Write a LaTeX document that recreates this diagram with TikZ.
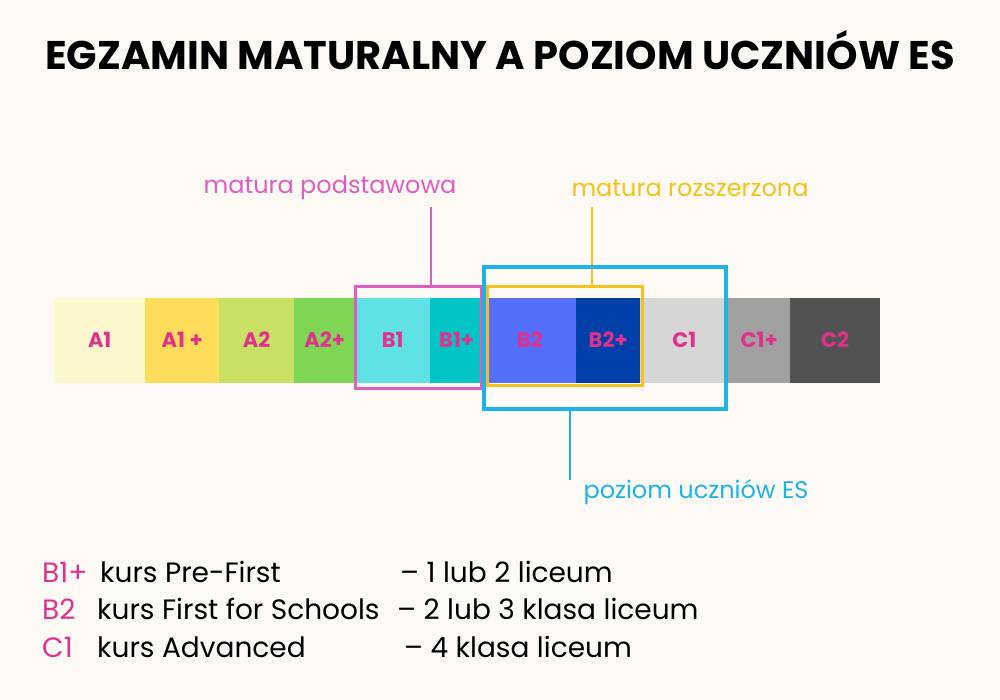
\documentclass[tikz,border=0pt]{standalone}
\usepackage{fontspec}
\setmainfont{Poppins}
\definecolor{bg}{HTML}{FDF9F5}
\definecolor{mag}{HTML}{E0318C}
\definecolor{pinkb}{HTML}{E05DC0}
\definecolor{yel}{HTML}{F5C21C}
\definecolor{blu}{HTML}{1CB4E4}
\begin{document}
\begin{tikzpicture}[x=1pt,y=-1pt,
 seg/.style={draw=none,inner sep=0,minimum height=85,anchor=west,font=\bfseries\fontsize{21}{21}\selectfont,text=mag},
 lab/.style={font=\fontsize{24}{24}\selectfont,anchor=center,inner sep=0},
 leg/.style={font=\fontsize{28}{28}\selectfont,anchor=base west,inner sep=0}]
\fill[bg] (0,0) rectangle (1000,700);
\useasboundingbox (0,0) rectangle (1000,700);
\node[font=\bfseries\fontsize{40}{40}\selectfont,anchor=center] (title) at (500,50) {EGZAMIN MATURALNY A POZIOM UCZNIÓW ES};
\node[seg,fill={rgb,255:red,253;green,247;blue,205},minimum width=91] (a1) at (54,340) {A1};
\node[seg,fill={rgb,255:red,253;green,220;blue,90},minimum width=74] (a1p) at (145,340) {A1 +};
\node[seg,fill={rgb,255:red,200;green,224;blue,100},minimum width=75] (a2) at (219,340) {A2};
\node[seg,fill={rgb,255:red,126;green,214;blue,84},minimum width=61] (a2p) at (294,340) {A2+};
\node[seg,fill={rgb,255:red,96;green,226;blue,228},minimum width=75] (b1) at (355,340) {B1};
\node[seg,fill={rgb,255:red,0;green,196;blue,198},minimum width=53] (b1p) at (430,340) {B1+};
\node[seg,fill={rgb,255:red,84;green,112;blue,250},minimum width=93] (b2) at (483,340) {B2};
\node[seg,fill={rgb,255:red,0;green,64;blue,168},minimum width=64] (b2p) at (576,340) {B2+};
\node[seg,fill={rgb,255:red,214;green,214;blue,214},minimum width=88] (c1) at (640,340) {C1};
\node[seg,fill={rgb,255:red,160;green,160;blue,160},minimum width=62] (c1p) at (728,340) {C1+};
\node[seg,fill={rgb,255:red,82;green,82;blue,82},minimum width=90] (c2) at (790,340) {C2};
% boxes
\draw[pinkb,line width=3] (355,287) rectangle (481,388);
\coordinate (pt) at (431,287);
\node[lab,text=pinkb] (mp) at (330,188) {matura podstawowa};
\draw[pinkb,line width=2.5] (pt) -- (431,207);
\draw[yel,line width=3] (487,287) rectangle (642,385);
\coordinate (yt) at (592,287);
\node[lab,text=yel] (mr) at (690,188) {matura rozszerzona};
\draw[yel,line width=2.5] (yt) -- (592,207);
\draw[blu,line width=3.5] (484,267) rectangle (726,409);
\coordinate (bt) at (570,409);
\node[lab,text=blu] (pu) at (696,492) {poziom uczniów ES};
\draw[blu,line width=2.5] (bt) -- (570,480);
% legend
\node[leg,text=mag] (l1) at (42,582) {B1+};
\node[leg] (l1b) at (100,582) {kurs Pre-First};
\node[leg] (l1c) at (400,582) {– 1 lub 2 liceum};
\node[leg,text=mag] (l2) at (42,619) {B2};
\node[leg] (l2b) at (97,619) {kurs First for Schools};
\node[leg] (l2c) at (397,619) {– 2 lub 3 klasa liceum};
\node[leg,text=mag] (l3) at (42,657) {C1};
\node[leg] (l3b) at (97,657) {kurs Advanced};
\node[leg] (l3c) at (404,657) {– 4 klasa liceum};
\end{tikzpicture}
\end{document}
